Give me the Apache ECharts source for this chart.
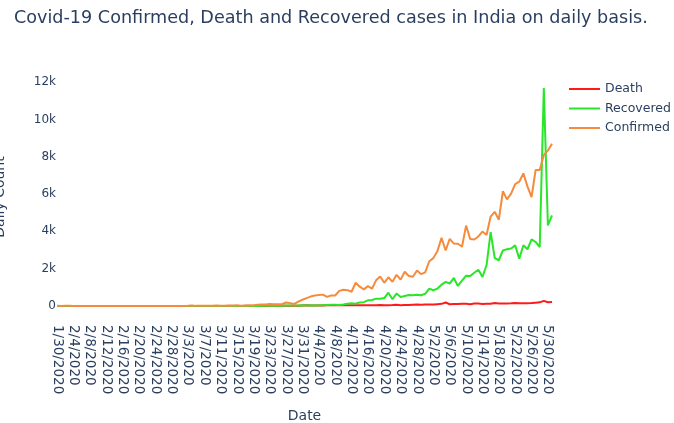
<!DOCTYPE html>
<html>
<head>
<meta charset="utf-8">
<style>
  html, body { margin: 0; padding: 0; background: #fff; }
  #chart { width: 674px; height: 423px; }
</style>
<script src="https://cdn.jsdelivr.net/npm/echarts@6/dist/echarts.min.js"></script>
</head>
<body>
<div id="chart"></div>
<script>
// date labels: one day (2/1) is missing in the source data
function monthDays(m, from, to) {
  const out = []
  for (let d = from; d <= to; d++) out.push(m + '/' + d + '/2020')
  return out
}
const dates = [].concat(
  monthDays(1, 30, 31),
  monthDays(2, 2, 29),
  monthDays(3, 1, 31),
  monthDays(4, 1, 30),
  monthDays(5, 1, 31)
)

const deathCases = [
  0, 0, 0, 0, 0, 0, 0, 0, 0, 0, 0, 0, 0, 0, 0, 0, 0, 0, 0, 0, 0,
  0, 0, 0, 0, 0, 0, 0, 0, 0, 0, 0, 0, 0, 0, 0, 0, 0, 0, 0, 0, 0,
  1, 0, 1, 0, 1, 0, 1, 1,
  3, 0, 3, 2, 3, 4, 6, 2, 8, 5, 20,
  30, 20, 15, 20, 25, 30, 35, 30, 40, 35, 40, 35,
  35, 40, 30, 40, 35, 40, 45, 35, 40, 45, 55, 40, 50, 45, 60, 70, 60, 70,
  75, 70, 90, 110, 180, 90, 100, 95, 115, 110, 90, 125, 130, 105, 115, 120,
  155, 130, 135, 135, 140, 150, 145, 140, 145, 150, 170, 190, 270, 195, 215
]

const recoveredCases = [
  0, 0, 0, 0, 0, 0, 0, 0, 0, 0, 0, 0, 0, 0, 0, 0, 0, 0, 0, 0, 0, 0, 0, 0, 0,
  0, 0, 0, 0, 0, 0, 0, 0, 0, 0, 0, 0, 0, 0, 0, 0, 0, 0, 0, 0, 0, 0, 0, 0, 0,
  2, 3, 4, 5, 3, 10, 15, 20, 15, 20, 30,
  20, 30, 25, 35, 40, 50, 55, 60, 50, 80, 120, 140,
  120, 180, 200, 300, 320, 390, 380, 420, 710, 360, 660, 480, 530, 580, 570, 600, 570, 650,
  930, 840, 930, 1140, 1290, 1200, 1500, 1070, 1350, 1620, 1600, 1780, 1940, 1550, 2180,
  3960, 2570, 2450, 2980, 3040, 3080, 3250, 2530, 3250, 3040, 3570, 3430, 3160, 11690, 4320, 4860
]

const confirmedCases = [
  1, 0, 1, 1,
  0, 0, 0, 0, 0, 0, 0, 0, 0, 0, 0, 0, 0, 0, 0, 0, 0, 0, 0, 0, 0, 0, 0, 0, 0, 0, 0, 0,
  2, 22, 1, 3, 5, 4, 9, 15, 12,
  13, 13, 19, 24, 14, 22, 34, 22,
  57, 78, 69, 103, 86, 84, 91, 184, 149, 106, 227, 330,
  420, 500, 560, 580, 605, 484, 560, 560, 805, 865, 845, 758,
  1243, 1031, 886, 1061, 922, 1371, 1580, 1239, 1537, 1292, 1667, 1408, 1835, 1607, 1568, 1902, 1705, 1801,
  2396, 2564, 2952, 3656, 2971, 3602, 3344, 3339, 3175, 4311, 3592, 3562, 3726, 3991, 3808,
  4794, 5049, 4628, 6154, 5720, 6023, 6536, 6667, 7111, 6414, 5843, 7293, 7300, 8105, 8336, 8700
]

const yTicks = [0, 2000, 4000, 6000, 8000, 10000, 12000]

const textColor = '#2a3f5f'
const font = 'DejaVu Sans'

const chart = echarts.init(document.getElementById('chart'))

function lineSeries(name, data, color) {
  return {
    name: name,
    type: 'line',
    data: data,
    symbol: 'none',
    lineStyle: { color: color, width: 2 },
    itemStyle: { color: color },
    emphasis: { disabled: true }
  }
}

chart.setOption({
  animation: false,
  backgroundColor: '#fff',
  textStyle: { fontFamily: font },
  title: {
    text: 'Covid-19 Confirmed, Death and Recovered cases in India on daily basis.',
    left: 9,
    top: 4,
    textStyle: { color: textColor, fontSize: 17.6, fontWeight: 'normal', fontFamily: font }
  },
  legend: {
    orient: 'vertical',
    left: 564,
    top: 77,
    icon: 'rect',
    itemWidth: 31,
    itemHeight: 2,
    itemGap: 5.5,
    textStyle: { color: textColor, fontSize: 12.5, fontFamily: font, lineHeight: 14 },
    data: ['Death', 'Recovered', 'Confirmed']
  },
  grid: { left: 57, right: 122, top: 76, bottom: 105, outerBoundsMode: 'none' },
  xAxis: {
    type: 'category',
    data: dates,
    boundaryGap: false,
    name: 'Date',
    nameLocation: 'middle',
    nameGap: 91,
    nameTextStyle: { color: textColor, fontSize: 14, fontFamily: font },
    axisLine: { show: false },
    axisTick: { show: false },
    axisLabel: {
      interval: 3,
      rotate: -90,
      margin: 7,
      color: textColor,
      fontSize: 13.5,
      fontFamily: font
    },
    splitLine: { show: false }
  },
  yAxis: {
    type: 'value',
    min: -650,
    max: 12340,
    name: 'Daily Count',
    nameLocation: 'middle',
    nameGap: 50,
    nameTextStyle: { color: textColor, fontSize: 14, fontFamily: font },
    axisLine: { show: false },
    axisTick: { show: false },
    splitLine: { show: false },
    axisLabel: {
      customValues: yTicks,
      margin: 1,
      color: textColor,
      fontSize: 12,
      fontFamily: font,
      formatter: (v) => (v === 0 ? '0' : v / 1000 + 'k')
    }
  },
  series: [
    lineSeries('Death', deathCases, '#ff1a1a'),
    lineSeries('Recovered', recoveredCases, '#2ae62a'),
    lineSeries('Confirmed', confirmedCases, '#f58b3c')
  ]
})
</script>
</body>
</html>
